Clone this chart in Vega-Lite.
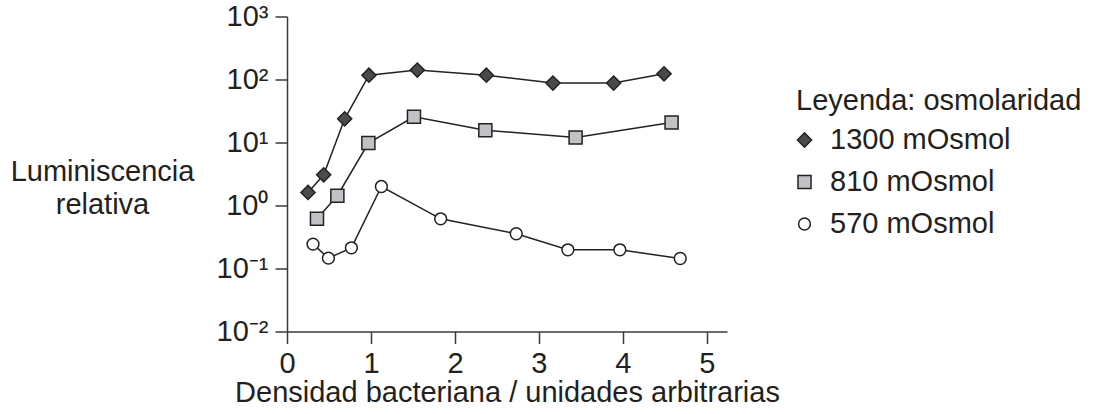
{
  "$schema": "https://vega.github.io/schema/vega-lite/v6.json",
  "width": 440,
  "height": 315,
  "autosize": {"type": "none"},
  "padding": {"left": 287, "top": 16.5, "right": 372, "bottom": 82.5},
  "background": "white",
  "config": {
    "view": {"stroke": null},
    "font": "Liberation Sans",
    "axis": {
      "domainColor": "#3a3a3a",
      "domainWidth": 1.5,
      "tickColor": "#3a3a3a",
      "tickWidth": 1.5,
      "tickSize": 12,
      "grid": false,
      "labelFont": "Liberation Sans",
      "labelFontSize": 29,
      "labelColor": "#231f20",
      "titleFont": "Liberation Sans",
      "titleFontSize": 29,
      "titleFontWeight": "normal",
      "titleColor": "#231f20"
    }
  },
  "data": {
    "values": [
      {"serie": "1300 mOsmol", "densidad": 0.25, "lum": 1.61},
      {"serie": "1300 mOsmol", "densidad": 0.437, "lum": 3.07},
      {"serie": "1300 mOsmol", "densidad": 0.687, "lum": 23.8},
      {"serie": "1300 mOsmol", "densidad": 0.976, "lum": 117},
      {"serie": "1300 mOsmol", "densidad": 1.552, "lum": 141},
      {"serie": "1300 mOsmol", "densidad": 2.374, "lum": 117},
      {"serie": "1300 mOsmol", "densidad": 3.167, "lum": 87.7},
      {"serie": "1300 mOsmol", "densidad": 3.89, "lum": 87.7},
      {"serie": "1300 mOsmol", "densidad": 4.49, "lum": 123},
      {"serie": "810 mOsmol", "densidad": 0.357, "lum": 0.615},
      {"serie": "810 mOsmol", "densidad": 0.6, "lum": 1.43},
      {"serie": "810 mOsmol", "densidad": 0.969, "lum": 9.8},
      {"serie": "810 mOsmol", "densidad": 1.512, "lum": 25.6},
      {"serie": "810 mOsmol", "densidad": 2.362, "lum": 15.7},
      {"serie": "810 mOsmol", "densidad": 3.437, "lum": 12.0},
      {"serie": "810 mOsmol", "densidad": 4.58, "lum": 20.8},
      {"serie": "570 mOsmol", "densidad": 0.31, "lum": 0.244},
      {"serie": "570 mOsmol", "densidad": 0.493, "lum": 0.146},
      {"serie": "570 mOsmol", "densidad": 0.767, "lum": 0.213},
      {"serie": "570 mOsmol", "densidad": 1.124, "lum": 2.0},
      {"serie": "570 mOsmol", "densidad": 1.83, "lum": 0.615},
      {"serie": "570 mOsmol", "densidad": 2.73, "lum": 0.356},
      {"serie": "570 mOsmol", "densidad": 3.345, "lum": 0.198},
      {"serie": "570 mOsmol", "densidad": 3.964, "lum": 0.198},
      {"serie": "570 mOsmol", "densidad": 4.683, "lum": 0.144}
    ]
  },
  "encoding": {
    "x": {
      "field": "densidad",
      "type": "quantitative",
      "scale": {"domain": [0, 5.24], "nice": false, "zero": false},
      "axis": {
        "values": [0, 1, 2, 3, 4, 5],
        "title": "Densidad bacteriana / unidades arbitrarias",
        "labelPadding": 6,
        "titleBaseline": "alphabetic",
        "titleY": 70,
        "labelFlush": false
      }
    },
    "y": {
      "field": "lum",
      "type": "quantitative",
      "scale": {"type": "log", "domain": [0.01, 1000], "nice": false},
      "axis": {
        "values": [0.01, 0.1, 1, 10, 100, 1000],
        "labelExpr": "datum.value >= 999 ? '10³' : datum.value >= 99 ? '10²' : datum.value >= 9 ? '10¹' : datum.value >= 0.9 ? '10⁰' : datum.value >= 0.09 ? '10⁻¹' : '10⁻²'",
        "labelPadding": 7,
        "labelFlush": false,
        "title": ["Luminiscencia", "relativa"],
        "titleAngle": 0,
        "titleAlign": "center",
        "titleBaseline": "alphabetic",
        "titleX": -185,
        "titleY": 163.5,
        "titleLineHeight": 33
      }
    }
  },
  "layer": [
    {
      "mark": {"type": "line", "color": "#222222", "strokeWidth": 1.5},
      "encoding": {"detail": {"field": "serie", "type": "nominal"}}
    },
    {
      "mark": {"type": "point", "filled": true, "stroke": "#222222", "strokeWidth": 1.5, "opacity": 1},
      "encoding": {
        "shape": {
          "field": "serie",
          "type": "nominal",
          "scale": {"domain": ["1300 mOsmol", "810 mOsmol", "570 mOsmol"], "range": ["diamond", "square", "circle"]},
          "legend": {
            "orient": "none",
            "legendX": 509,
            "legendY": 70,
            "title": "Leyenda: osmolaridad",
            "titleFont": "Liberation Sans",
            "titleFontSize": 29,
            "titleFontWeight": "normal",
            "titleColor": "#231f20",
            "titlePadding": 10,
            "titleLimit": 0,
            "labelFont": "Liberation Sans",
            "labelFontSize": 29,
            "labelColor": "#231f20",
            "labelLimit": 0,
            "labelOffset": 11,
            "symbolOffset": -6,
            "rowPadding": 12,
            "symbolStrokeColor": "#222222",
            "symbolStrokeWidth": 1.5
          }
        },
        "fill": {
          "field": "serie",
          "type": "nominal",
          "scale": {"domain": ["1300 mOsmol", "810 mOsmol", "570 mOsmol"], "range": ["#4a4a4a", "#c2c2c6", "#ffffff"]}
        },
        "size": {
          "field": "serie",
          "type": "ordinal",
          "scale": {"domain": ["1300 mOsmol", "810 mOsmol", "570 mOsmol"], "range": [200, 140, 140]}
        }
      }
    }
  ]
}
